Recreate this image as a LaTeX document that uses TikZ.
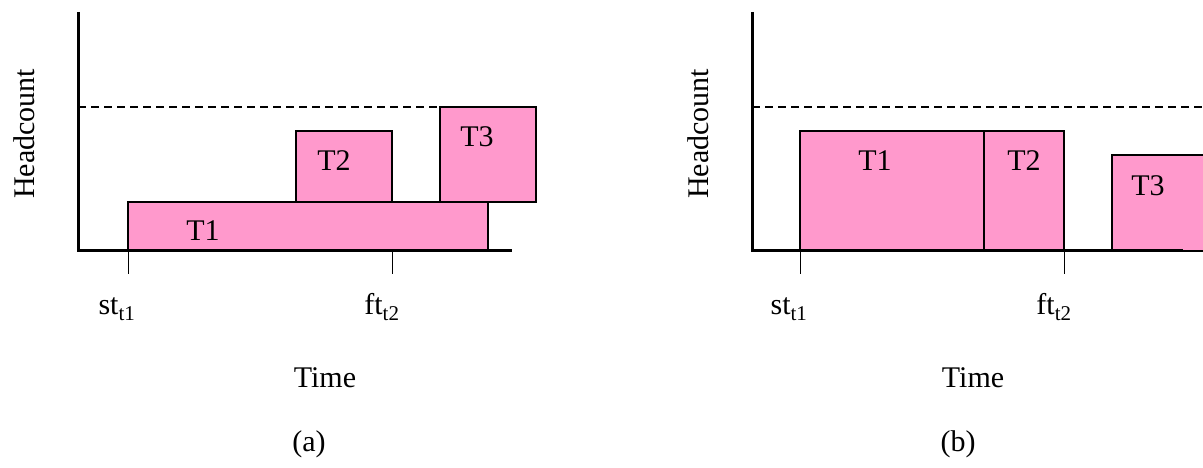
\documentclass[tikz,border=0pt]{standalone}
\usepackage{fontspec}
\setmainfont{Liberation Serif}
\definecolor{taskpink}{RGB}{255,153,204}
\tikzset{
    task/.style={draw, fill=taskpink, line width=1.5pt},
    axisline/.style={line width=3pt},
    tickline/.style={line width=0.8pt},
    limit/.style={dashed, dash pattern=on 8pt off 5pt, line width=1.5pt}
}

\begin{document}
\begin{tikzpicture}[x=1pt,y=1pt,font=\fontsize{30}{34}\selectfont]
\useasboundingbox (0,0) rectangle (1203,468);
% (a) tasks stacked over each other
\draw[task] (128,217) rectangle (488,266);
\node at (203,237) {T1};
\draw[task] (296,266) rectangle (392,337);
\node at (334,307) {T2};
\draw[task] (440,266) rectangle (536,361);
\node at (477,331) {T3};
% (b) tasks levelled under the limit
\draw[task] (800,217) rectangle (984,337);
\node at (875,307) {T1};
\draw[task] (984,217) rectangle (1064,337);
\node at (1024,307) {T2};
\draw[task] (1112,217) rectangle (1215,313);
\node at (1148,282) {T3};
% axes, limit line, ticks and labels of both panels
\foreach \ox/\xend/\dend/\ta/\tb/\xt/\xp/\p in {78/512/440/128/392/325/309/a, 752/1183/1203/800/1064/973/958/b}{
    \coordinate (top\p) at (\ox,456);
    \coordinate (o\p) at (\ox,217);
    \coordinate (end\p) at (\xend,217);
    \draw[limit] (\ox,361) -- (\dend,361);
    \draw[axisline] (top\p) -- (o\p) -- (end\p);
    \draw[tickline] (\ta,217) -- (\ta,194);
    \draw[tickline] (\tb,217) -- (\tb,194);
    \node[anchor=base] at (\ta-11,153) {st\textsubscript{t1}};
    \node[anchor=base] at (\tb-10,153) {ft\textsubscript{t2}};
    \node[rotate=90] at (\ox-54,334) {Headcount};
    \node[anchor=base] at (\xt,80) {Time};
    \node[anchor=base] at (\xp,16) {(\p)};
}
\end{tikzpicture}
\end{document}
